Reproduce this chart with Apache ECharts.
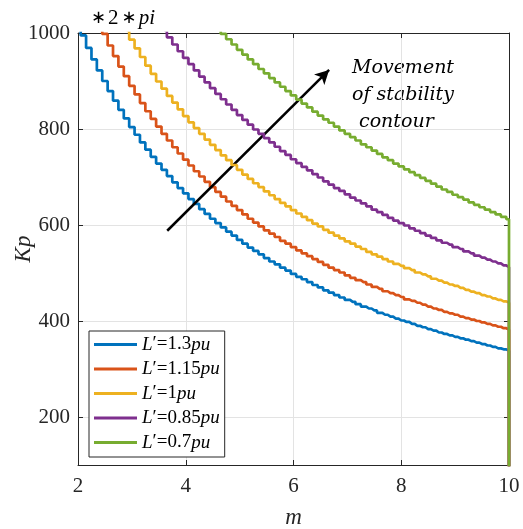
<!DOCTYPE html>
<html><head><meta charset="utf-8">
<script src="https://cdn.jsdelivr.net/npm/echarts@6/dist/echarts.min.js"></script>
<style>html,body{margin:0;padding:0;background:#fff}#c{width:523px;height:529px}</style>
</head><body><div id="c"></div>
<script>
// m grid (last entry repeats 10 for the vertical drop at the right edge)
const mValues = [
  2.0,2.1,2.2,2.3,2.4,2.5,2.6,2.7,2.8,2.9,
  3.0,3.1,3.2,3.3,3.4,3.5,3.6,3.7,3.8,3.9,
  4.0,4.1,4.2,4.3,4.4,4.5,4.6,4.7,4.8,4.9,
  5.0,5.1,5.2,5.3,5.4,5.5,5.6,5.7,5.8,5.9,
  6.0,6.1,6.2,6.3,6.4,6.5,6.6,6.7,6.8,6.9,
  7.0,7.1,7.2,7.3,7.4,7.5,7.6,7.7,7.8,7.9,
  8.0,8.1,8.2,8.3,8.4,8.5,8.6,8.7,8.8,8.9,
  9.0,9.1,9.2,9.3,9.4,9.5,9.6,9.7,9.8,9.9,
  10.0, 10.0
];
const kpL130 = [
  1022,995,969,945,922,900,879,859,840,822,
  804,788,772,757,742,728,715,702,689,677,
  666,654,644,633,623,613,604,595,586,578,
  569,561,553,546,539,531,524,518,511,505,
  498,492,487,481,475,470,464,459,454,449,
  444,440,435,430,426,422,417,413,409,405,
  401,398,394,390,387,383,380,376,373,370,
  367,364,361,358,355,352,349,346,343,341,
  338, 0
];
const kpL115 = [
  null,null,null,null,1023,998,974,952,930,910,
  890,872,854,837,821,805,790,776,762,749,
  736,724,712,701,690,679,669,659,649,640,
  631,622,613,605,597,589,582,575,567,561,
  554,547,541,535,529,523,517,511,506,501,
  495,490,485,481,476,471,467,462,458,454,
  450,445,442,438,434,430,426,423,419,416,
  413,409,406,403,400,397,394,391,388,385,
  382, 0
];
const kpL100 = [
  null,null,null,null,null,null,null,null,null,1006,
  986,968,950,932,915,899,884,869,855,841,
  827,814,802,790,778,767,756,745,735,725,
  715,705,696,687,679,670,662,654,646,639,
  631,624,617,610,603,597,590,584,578,572,
  566,561,555,550,544,539,534,529,524,519,
  515,510,506,501,497,493,488,484,480,476,
  473,469,465,461,458,454,451,447,444,441,
  438, 0
];
const kpL085 = [
  null,null,null,null,null,null,null,null,null,null,
  null,null,null,null,null,null,1006,991,976,962,
  948,935,922,909,897,885,873,862,851,840,
  829,819,809,799,790,781,772,763,754,746,
  737,729,721,714,706,699,691,684,677,671,
  664,657,651,645,639,632,627,621,615,609,
  604,599,593,588,583,578,573,568,563,559,
  554,550,545,541,536,532,528,524,520,516,
  512, 0
];
const kpL070 = [
  null,null,null,null,null,null,null,null,null,null,
  null,null,null,null,null,null,null,null,null,null,
  null,null,null,null,null,null,1009,998,987,976,
  965,955,945,935,925,916,906,897,888,879,
  870,861,853,845,836,828,820,813,805,797,
  790,783,776,768,762,755,748,741,735,728,
  722,716,710,704,698,692,686,680,674,669,
  663,658,653,647,642,637,632,627,622,617,
  612, 0
];
const lValues = ['1.3','1.15','1','0.85','0.7'];
const seriesColors = ['#0072BD','#D95319','#EDB120','#7E2F8E','#77AC30'];
const yTicks = [200,400,600,800,1000];
const arrowStart = [3.656, 588];
const arrowEnd = [6.661, 923];

const allKp = [kpL130, kpL115, kpL100, kpL085, kpL070];
function pts(arr){ const out=[]; arr.forEach((v,i)=>{ if(v!==null) out.push([mValues[i], v]); }); return out; }

const serif = '"Liberation Serif", "DejaVu Serif", serif';
const dark = '#262626';
const series = allKp.map((arr, i) => ({
  name: lValues[i],
  type: 'line',
  step: 'middle',
  data: pts(arr),
  symbol: 'none',
  showSymbol: false,
  clip: true,
  color: seriesColors[i],
  lineStyle: { width: 2.7, color: seriesColors[i] },
  z: 3 + i
}));
series[4].markLine = {
  silent: true,
  symbol: ['none', 'arrow'],
  symbolSize: [11, 14],
  label: { show: false },
  lineStyle: { color: '#000', width: 2.5, type: 'solid' },
  emphasis: { disabled: true },
  data: [[{ coord: arrowStart }, { coord: arrowEnd }]]
};

const chart = echarts.init(document.getElementById('c'), null, { renderer: 'canvas' });
chart.setOption({
  animation: false,
  backgroundColor: '#fff',
  grid: { left: 78, right: 14, top: 33, bottom: 64, containLabel: false, outerBoundsMode: 'none' },
  xAxis: [{
    type: 'value', min: 2, max: 10, interval: 2,
    name: 'm', nameLocation: 'middle', nameGap: 41, nameMoveOverlap: false,
    nameTextStyle: { fontFamily: serif, fontStyle: 'italic', fontSize: 23, color: dark },
    axisLine: { show: true, lineStyle: { color: dark, width: 1 } },
    axisTick: { show: true, inside: true, length: 5, lineStyle: { color: dark } },
    axisLabel: { fontFamily: serif, fontSize: 21, color: dark, margin: 11, formatter: v => String(v) },
    splitLine: { show: true, lineStyle: { color: '#e3e3e3', width: 1 } }
  }, {
    type: 'value', min: 2, max: 10, interval: 2, position: 'top',
    axisLine: { show: true, lineStyle: { color: dark, width: 1 } },
    axisTick: { show: true, inside: true, length: 5, lineStyle: { color: dark } },
    axisLabel: { show: false }, splitLine: { show: false }
  }],
  yAxis: [{
    type: 'value', min: 100, max: 1000,
    name: 'Kp', nameLocation: 'middle', nameGap: 43, nameRotate: 90, nameMoveOverlap: false,
    nameTextStyle: { fontFamily: serif, fontStyle: 'italic', fontSize: 23, color: dark },
    axisLine: { show: true, lineStyle: { color: dark, width: 1 } },
    axisTick: { show: true, inside: true, length: 5, customValues: yTicks, lineStyle: { color: dark } },
    axisLabel: { fontFamily: serif, fontSize: 21, color: dark, margin: 8, customValues: yTicks, formatter: v => String(v) },
    splitLine: { show: true, lineStyle: { color: '#e3e3e3', width: 1 } }
  }, {
    type: 'value', min: 100, max: 1000, position: 'right',
    axisLine: { show: true, lineStyle: { color: dark, width: 1 } },
    axisTick: { show: true, inside: true, length: 5, customValues: yTicks, lineStyle: { color: dark } },
    axisLabel: { show: false }, splitLine: { show: false }
  }],
  legend: {
    orient: 'vertical', left: 89, top: 331,
    padding: [4, 5, 5, 5], itemGap: 5.5,
    itemWidth: 43, itemHeight: 3, icon: 'rect',
    backgroundColor: '#fff', borderColor: dark, borderWidth: 1,
    data: lValues,
    formatter: n => '{i|L}{n|′=' + n + '}{i|pu}',
    textStyle: {
      color: '#000', fontSize: 19, lineHeight: 18,
      rich: {
        i: { fontFamily: serif, fontStyle: 'italic', fontSize: 19, color: '#000' },
        n: { fontFamily: serif, fontSize: 19, color: '#000' }
      }
    }
  },
  graphic: [
    { type: 'text', left: 91, top: 8, style: {
        text: '{s|∗}{n|2}{s|∗}{i|pi}',
        rich: {
          s: { fontFamily: '"DejaVu Sans", sans-serif', fontSize: 18, fill: '#000', padding: [0, 2, 0, 1] },
          n: { fontFamily: serif, fontSize: 21, fill: '#000', padding: [0, 2, 0, 0] },
          i: { fontFamily: serif, fontStyle: 'italic', fontSize: 21, fill: '#000' }
        } } },
    { type: 'text', x: 352, y: 68, style: { text: 'Movement', font: 'italic 19px "DejaVu Serif"', fill: '#000', verticalAlign: 'middle' } },
    { type: 'text', x: 352, y: 95, style: { text: 'of stability', font: 'italic 19px "DejaVu Serif"', fill: '#000', verticalAlign: 'middle' } },
    { type: 'text', x: 359, y: 122, style: { text: 'contour', font: 'italic 19px "DejaVu Serif"', fill: '#000', verticalAlign: 'middle' } }
  ],
  series: series
});
</script></body></html>
